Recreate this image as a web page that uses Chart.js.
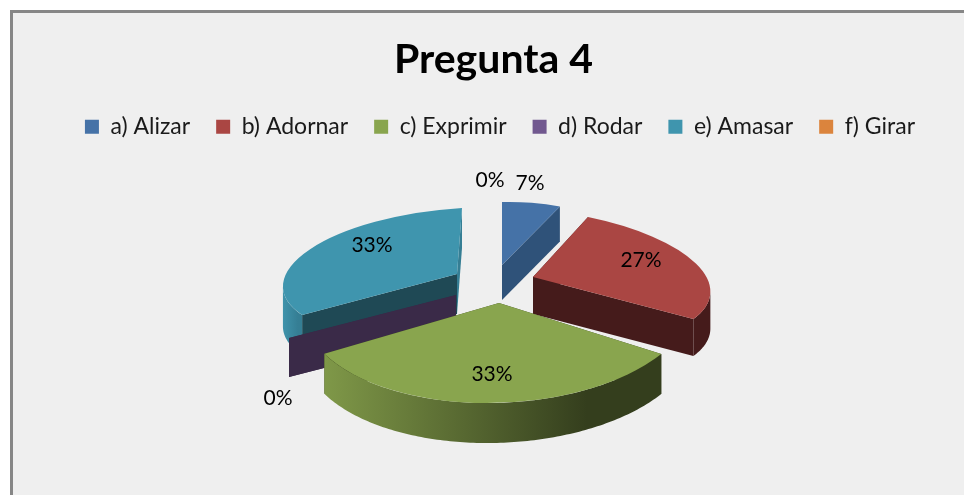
<!DOCTYPE html>
<html><head><meta charset="utf-8">
<script src="https://cdn.jsdelivr.net/npm/chart.js@4"></script>
<style>
html,body{margin:0;padding:0;background:#fff;overflow:hidden}
#frame{position:absolute;left:10px;top:10px;width:954px;height:485px;background:#efefef;border-left:3px solid #868686;border-top:3px solid #868686;box-sizing:border-box}
canvas{position:absolute;left:0;top:0}
</style></head><body>
<div id="frame"></div>
<canvas id="c" width="964" height="495"></canvas>
<script>
// ---- data ----
const chartTitle = 'Pregunta 4';
const categories = ['a) Alizar','b) Adornar','c) Exprimir','d) Rodar','e) Amasar','f) Girar'];
const percentages = [7,27,33,0,33,0];
const sliceColors = ['#4572a7','#aa4643','#89a54e','#71588f','#3f95ae','#db843d'];

// ---- 3D look: style only ----
const wallColors = ['#2f5279','#451b1b','#36401e','#3a2a48','#1f4955','#9a5d2a'];
const rimColors = [null,['#451b1b','#451b1b'],['#7f9848','#343e1d'],null,['#3f93ab','#357e94'],null];
const thickness = [35,37,40,39,40,0];
// perspective view of each exploded slice: apex and linear map [p,q,r,t]
const views = [
  {x:502,y:265,m:[136,0,-3.5,63]},
  {x:533,y:277,m:[176,22,6,69]},
  {x:499,y:303,m:[196,-6,-3,100]},
  {x:456,y:295,m:[190.6,0,0,89]},
  {x:457,y:274,m:[174,-5,-10.5,66]},
  null
];
const drawOrder = [5,4,3,0,1,2];
const labelSpots = [[530,183],[641,260],[492,374],[278,398],[372,245],[490,180]];

const solid3d = {
  id:'solid3d',
  afterLayout(chart){ chart.legend.left += 13; },
  beforeDatasetsDraw(chart){
    const ctx = chart.ctx;
    const arcs = chart.getDatasetMeta(0).data;
    drawOrder.forEach(i=>{
      const v = views[i]; if(!v) return;
      const el = arcs[i];
      const [p,q,r,t] = v.m, h = thickness[i];
      const pt = th => { const c=Math.cos(th), s=Math.sin(th);
        return [v.x+p*c+q*s, v.y+r*c+t*s]; };
      // radial walls
      [el.startAngle, el.endAngle].forEach(th=>{
        const e = pt(th);
        ctx.fillStyle = wallColors[i];
        if (th===el.endAngle && i===4) ctx.fillStyle = '#357e94';
        ctx.beginPath();
        ctx.moveTo(v.x,v.y); ctx.lineTo(e[0],e[1]);
        ctx.lineTo(e[0],e[1]+h); ctx.lineTo(v.x,v.y+h);
        ctx.closePath(); ctx.fill();
      });
      // rounded outer wall: only the part that faces the viewer
      if (rimColors[i]) {
        const top=[];
        const n=120, span=el.endAngle-el.startAngle;
        for(let k=0;k<=n;k++){
          const th=el.startAngle+span*k/n;
          if(-p*Math.sin(th)+q*Math.cos(th)<0) top.push(pt(th));
        }
        if(top.length>1){
          const xs=top.map(a=>a[0]);
          const x0=Math.min(...xs), x1=Math.max(...xs);
          const g=ctx.createLinearGradient(x0,0,x1,0);
          g.addColorStop(0,rimColors[i][0]);
          g.addColorStop(0.78,rimColors[i][1]);
          g.addColorStop(1,rimColors[i][1]);
          ctx.fillStyle=g;
          ctx.beginPath();
          top.forEach((a,k)=>k?ctx.lineTo(a[0],a[1]):ctx.moveTo(a[0],a[1]));
          top.slice().reverse().forEach(a=>ctx.lineTo(a[0],a[1]+h));
          ctx.closePath(); ctx.fill();
        }
      }
      // top face: the library's own arc, seen in perspective
      const R = el.outerRadius;
      ctx.save();
      ctx.transform(p/R,r/R,q/R,t/R,v.x-(p*el.x+q*el.y)/R,v.y-(r*el.x+t*el.y)/R);
      el.draw(ctx);
      ctx.restore();
    });
    return false;
  },
  afterDraw(chart){
    const ctx = chart.ctx;
    ctx.save();
    ctx.fillStyle='#000';
    ctx.font='21px Lato';
    ctx.textAlign='center';
    ctx.textBaseline='middle';
    percentages.forEach((v,i)=>ctx.fillText(v+'%',labelSpots[i][0],labelSpots[i][1]));
    ctx.restore();
  }
};

new Chart(document.getElementById('c'),{
  type:'pie',
  data:{labels:categories,datasets:[{data:percentages,backgroundColor:sliceColors,borderWidth:0}]},
  plugins:[solid3d],
  options:{
    responsive:false,animation:false,
    layout:{padding:{left:23,top:0,right:0,bottom:0}},
    radius:100,
    plugins:{
      tooltip:{enabled:false},
      title:{display:true,text:chartTitle,color:'#000',font:{family:'Lato',size:41,weight:'bold'},padding:{top:35,bottom:5}},
      legend:{display:true,position:'top',labels:{color:'#1a1a1a',font:{family:'Lato',size:23},boxWidth:14,boxHeight:14,padding:26}}
    }
  }
});
</script>
</body></html>
